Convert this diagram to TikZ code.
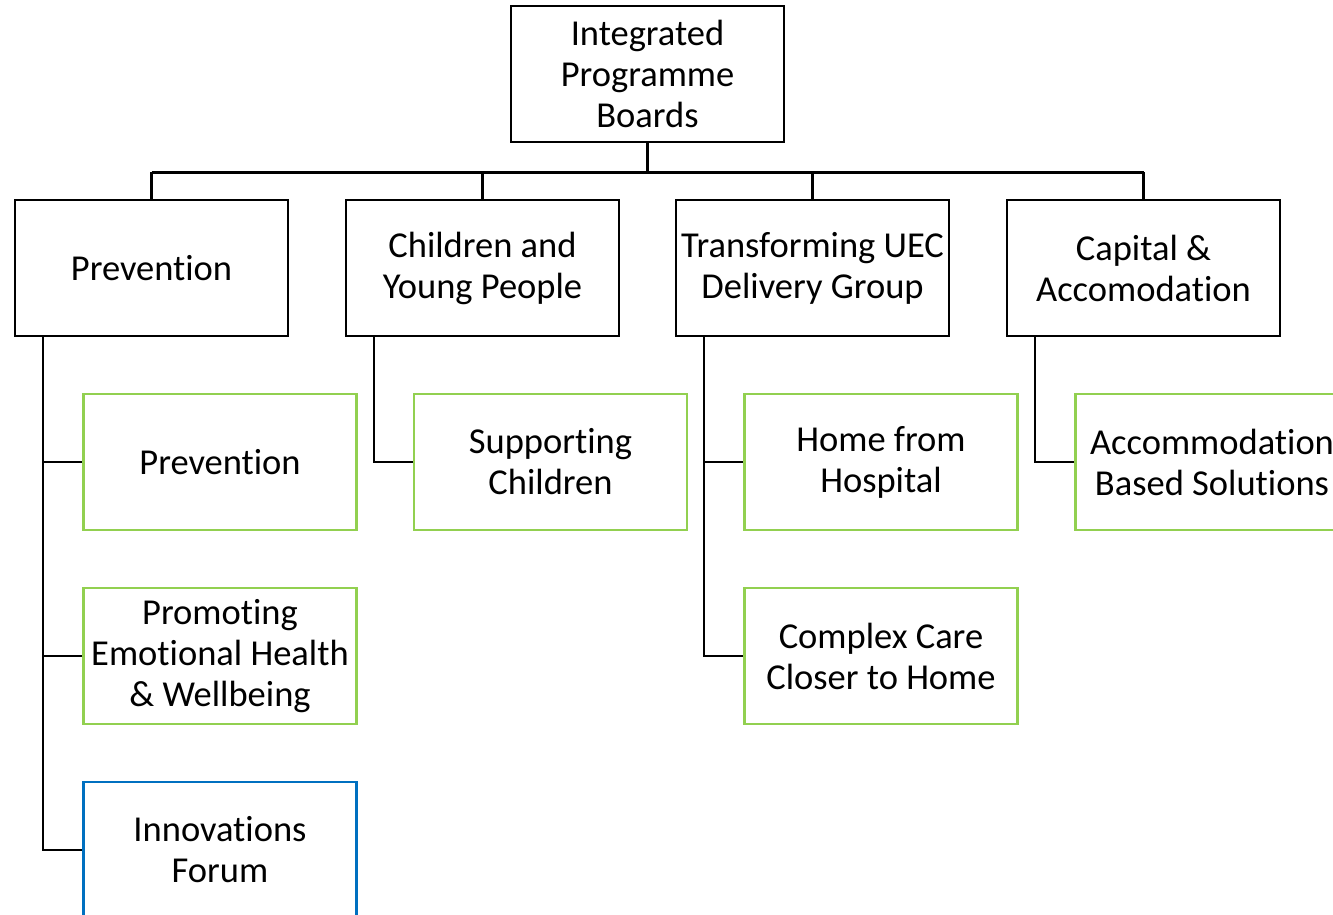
\documentclass[tikz,border=0pt]{standalone}
\usepackage{fontspec}
\setmainfont{Carlito}[Ligatures={NoCommon}]
\usetikzlibrary{positioning}
\definecolor{boxgreen}{HTML}{92D050}
\definecolor{boxblue}{HTML}{0070C0}
\begin{document}
\begin{tikzpicture}[x=1pt,y=-1pt,
            every node/.style={font=\fontsize{36.5}{41}\selectfont, align=center},
            box/.style={draw, line width=2.5pt, minimum width=273pt, minimum height=136pt, inner sep=0pt},
            subbox/.style={box, draw=boxgreen},
            forumbox/.style={box, draw=boxblue},
            link/.style={line width=2.5pt}]

            \clip (0,0) rectangle (1333,915);
            \useasboundingbox (0,0) rectangle (1333,915);

            % top and first level
            \node[box] (board) at (647.5,74) {Integrated\\Programme\\Boards};
            \node[box] (prev) at (151.5,268) {Prevention};
            \node[box] (cyp) at (482.5,268) {Children and\\Young People};
            \node[box] (uec) at (812.5,268) {Transforming UEC\\Delivery Group};
            \node[box] (cap) at (1143.5,268) {Capital \&\\Accomodation};

            % groups under each board
            \node[subbox] (prevgrp) at (220,462) {Prevention};
            \node[subbox] (emo) at (220,656) {Promoting\\Emotional Health\\\& Wellbeing};
            \node[forumbox] (forum) at (220,850) {Innovations\\Forum};
            \node[subbox] (supp) at (550.5,462) {Supporting\\Children};
            \node[subbox] (home) at (881,462) {Home from\\Hospital};
            \node[subbox] (care) at (881,656) {Complex Care\\Closer to Home};
            \node[subbox] (accom) at (1212,462) {Accommodation\\Based Solutions};

            % connectors
            \draw[link] (board.south) -- ++(0,29) coordinate (bus);
            \foreach \n in {prev,cyp,uec,cap}
                \draw[link] (\n.north) -- (\n.north |- bus);
            \draw[link] (prev.north |- bus) -- (cap.north |- bus);

            \draw[link] ([xshift=-108.5pt]prev.south) |- (prevgrp.west);
            \draw[link] ([xshift=-108.5pt]prev.south) |- (emo.west);
            \draw[link] ([xshift=-108.5pt]prev.south) |- (forum.west);
            \draw[link] ([xshift=-108.5pt]cyp.south) |- (supp.west);
            \draw[link] ([xshift=-108.5pt]uec.south) |- (home.west);
            \draw[link] ([xshift=-108.5pt]uec.south) |- (care.west);
            \draw[link] ([xshift=-108.5pt]cap.south) |- (accom.west);
        \end{tikzpicture}
\end{document}
